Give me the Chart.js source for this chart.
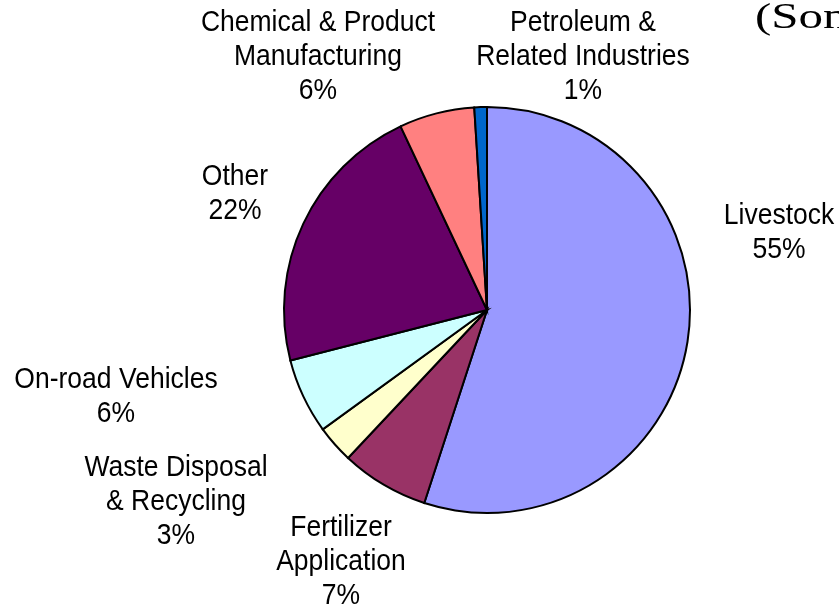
<!DOCTYPE html>
<html>
<head>
<meta charset="utf-8">
<script src="https://cdn.jsdelivr.net/npm/chart.js@4.4.1/dist/chart.umd.min.js"></script>
<style>
html,body{margin:0;padding:0;background:#fff;}
#wrap{width:839px;height:607px;position:relative;}
</style>
</head>
<body>
<div id="wrap"><canvas id="chart" width="839" height="607"></canvas></div>
<script>

/* DATA */
let categories = [
["Livestock"],
["Fertilizer","Application"],
["Waste Disposal","& Recycling"],
["On-road Vehicles"],
["Other"],
["Chemical & Product","Manufacturing"],
["Petroleum &","Related Industries"]
];

let shares = [55, 7, 3, 6, 22, 6, 1];

let sliceColors = ["#9999FF","#993366","#FFFFCC","#CCFFFF","#660066","#FF8080","#0066CC"];

/* label block centres, offset from the pie centre */
let labelOffsets = [
[292,-77],
[-146,252],
[-311,192],
[-371,87],
[-252,-116],
[-169,-253],
[96,-253]
];

let titleText = "(Son";

/* LABELS PLUGIN */
let pieLabels = {
id:"pieLabels",
afterDraw(c){

let ctx = c.ctx;
let arc = c.getDatasetMeta(0).data[0];
let cx = arc.x, cy = arc.y;
let total = shares.reduce((a,b)=>a+b,0);
let lineH = 34;
let stretch = 1.12;

ctx.save();
ctx.fillStyle = "#000";
ctx.textAlign = "center";
ctx.textBaseline = "middle";
ctx.font = "26.5px 'Liberation Sans', Arial, sans-serif";

categories.forEach((lines,i) => {

let all = lines.concat([Math.round(shares[i]/total*100) + "%"]);
let x = cx + labelOffsets[i][0];
let y0 = cy + labelOffsets[i][1] - (all.length-1)*lineH/2;

all.forEach((t,k) => {
let y = y0 + k*lineH;
ctx.save();
ctx.translate(x,y);
ctx.scale(1,stretch);
ctx.fillText(t,0,0);
ctx.restore();
});

});

/* cut off title at top right */
ctx.textAlign = "left";
ctx.textBaseline = "alphabetic";
ctx.font = "35px 'Liberation Serif', 'Times New Roman', serif";
ctx.save();
ctx.translate(755,28);
ctx.scale(1.4,1);
ctx.fillText(titleText,0,0);
ctx.restore();

ctx.restore();

}
};

let ctx = document.getElementById("chart").getContext("2d");

let chart = new Chart(ctx,{
type:"pie",
data:{
labels:categories,
datasets:[{
data:shares,
backgroundColor:sliceColors,
borderColor:"#000",
borderWidth:2,
borderJoinStyle:"miter"
}]
},
options:{
responsive:false,
animation:false,
layout:{
padding:{top:106,bottom:93,left:283,right:148}
},
plugins:{
legend:{display:false},
tooltip:{enabled:false}
}
},
plugins:[pieLabels]
});

</script>
</body>
</html>
